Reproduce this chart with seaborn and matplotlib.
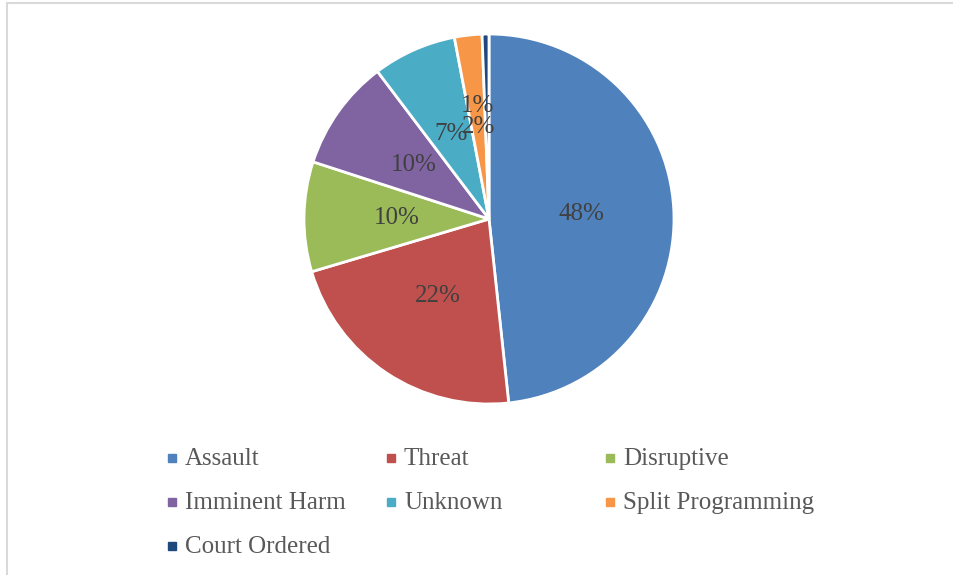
import numpy as np
import pandas as pd
import seaborn as sns
import matplotlib.pyplot as plt
from matplotlib.lines import Line2D

categories = ["Assault", "Threat", "Disruptive", "Imminent Harm",
              "Unknown", "Split Programming", "Court Ordered"]
shares = [48.3, 22.1, 9.6, 9.7, 7.3, 2.4, 0.6]
colors = ["#4F81BD", "#C0504D", "#9BBB59", "#8064A2",
          "#4BACC6", "#F79646", "#1F497D"]

df = pd.DataFrame({"category": categories, "share": shares})

sns.set_theme(style="white")
plt.rcParams["font.family"] = ["Liberation Serif", "DejaVu Serif"]
palette = sns.color_palette(colors)

W, H = 954, 575
fig = plt.figure(figsize=(W / 100, H / 100), dpi=100)

# pie centre ~ (489, 219) px, radius ~185 px
cx, cy, r = 489, 219, 185
ax = fig.add_axes([(cx - r) / W, (H - cy - r) / H, 2 * r / W, 2 * r / H])

wedges, texts, autotexts = ax.pie(
    df["share"], colors=palette, startangle=90, counterclock=False,
    autopct="%.0f%%", pctdistance=0.5,
    wedgeprops=dict(edgecolor="white", linewidth=2),
    textprops=dict(color="#404040", fontsize=18),
)
ax.set_xlim(-1, 1)
ax.set_ylim(-1, 1)
ax.set_aspect("equal")
for w in wedges:
    w.set_clip_on(False)

# nudge the tiny slice label up, as the original does
autotexts[-1].set_position(((478 - cx) / r, (cy - 106) / r))

# legend laid out in Excel-style fixed columns
col_x = [172, 391, 610]
row_y = [458, 502, 546]
for i, (lab, col) in enumerate(zip(categories, colors)):
    px = col_x[i % 3]
    py = row_y[i // 3]
    fig.add_artist(Line2D([px / W], [1 - py / H], marker="s", markersize=5.5,
                          color=col, linestyle="none", transform=fig.transFigure))
    fig.text((px + 13) / W, 1 - (py + 1) / H, lab, fontsize=18, color="#595959",
             va="center", ha="left")

# faint chart-area border (top and left edges visible)
border = "#D9D9D9"
fig.add_artist(Line2D([7.5 / W, 1], [1 - 2.5 / H, 1 - 2.5 / H], color=border,
                      linewidth=1.5, transform=fig.transFigure))
fig.add_artist(Line2D([7.5 / W, 7.5 / W], [0, 1 - 2.5 / H], color=border,
                      linewidth=1.5, transform=fig.transFigure))

fig.savefig("out.png", dpi=100, facecolor="white")
